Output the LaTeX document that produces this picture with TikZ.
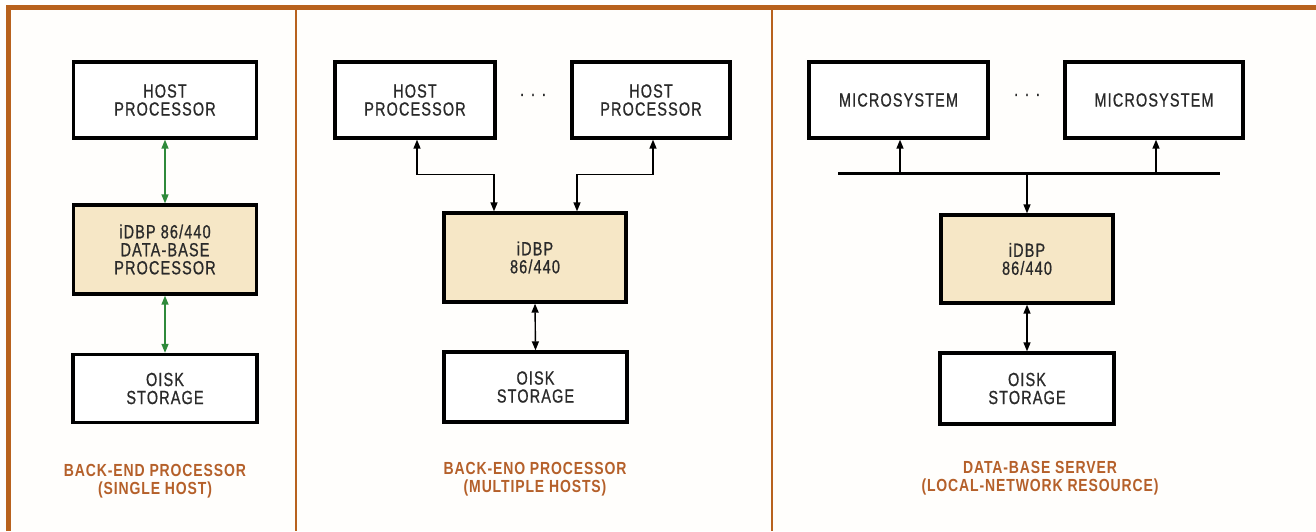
\documentclass[tikz,border=0pt]{standalone}
\usepackage{fontspec}
\setmainfont{Liberation Sans}[FakeStretch=0.8,LetterSpace=5]
\newfontfamily\boxfont{Liberation Sans}[FakeStretch=0.76,LetterSpace=6,FakeBold=0.8]
\usetikzlibrary{arrows.meta}
\definecolor{frame}{HTML}{B8621E}
\definecolor{cap}{HTML}{B5602A}
\definecolor{tan}{HTML}{F6E7C6}
\definecolor{ink}{HTML}{2A2A2A}
\definecolor{grn}{HTML}{2F8A3B}
\definecolor{paper}{HTML}{FFFEFC}
\begin{document}
\begin{tikzpicture}[x=1pt,y=-1pt,
  blk/.style={draw=black,line width=3.3pt,fill=white,inner sep=0pt,align=center,
    text=ink,font=\boxfont\fontsize{19}{18}\selectfont},
  dbp/.style={blk,fill=tan},
  captxt/.style={align=center,text=cap,font=\bfseries\fontsize{17.5}{18.5}\selectfont},
  tip/.style={-{Triangle[length=9pt,width=7pt]}},
  arr/.style={{Triangle[length=9pt,width=7pt]}-{Triangle[length=9pt,width=7pt]},line width=1.4pt},
  one/.style={tip,line width=1.4pt},
  bus/.style={line width=3pt},
  dots/.style={text=ink,font=\boxfont\fontsize{19}{18}\selectfont}]
\useasboundingbox (0,0) rectangle (1316,531);
\fill[white] (0,0) rectangle (1316,531);
\fill[paper] (8,7) rectangle (1316,531);
% frame
\draw[frame,line width=4.5pt] (8.5,531) -- (8.5,7.5) -- (1316,7.5);
\draw[frame,line width=2pt] (295.5,9) -- (295.5,531);
\draw[frame,line width=2pt] (772,9) -- (772,531);

% panel 1
\node[blk,minimum width=183pt,minimum height=76pt] (hp1) at (165,100) {HOST\\PROCESSOR};
\node[dbp,minimum width=183pt,minimum height=89pt] (db1) at (165,249.5) {iDBP 86/440\\DATA-BASE\\PROCESSOR};
\node[blk,minimum width=184pt,minimum height=68pt] (dk1) at (165,388.5) {OISK\\STORAGE};
\draw[arr,grn] (hp1.south) -- (db1.north);
\draw[arr,grn] (db1.south) -- (dk1.north);
\node[captxt] (c1) at (155,481) {BACK-END PROCESSOR\\(SINGLE HOST)};

% panel 2
\node[blk,minimum width=160pt,minimum height=76pt] (h1) at (415,100) {HOST\\PROCESSOR};
\node[blk,minimum width=158pt,minimum height=76pt] (h2) at (651,100) {HOST\\PROCESSOR};
\node[dots] (dt2) at (533,97) {·\hspace{6pt}·\hspace{6pt}·};
\node[dbp,minimum width=182pt,minimum height=89pt] (p2) at (535,257.5) {iDBP\\86/440};
\node[blk,minimum width=183pt,minimum height=70pt] (d2) at (535.5,387) {OISK\\STORAGE};
\draw[arr] ([xshift=2pt]h1.south) -- ++(0,35) -| ([xshift=-41pt]p2.north);
\draw[arr] ([xshift=2pt]h2.south) -- ++(0,35) -| ([xshift=42pt]p2.north);
\draw[arr] (p2.south) -- (d2.north);
\node[captxt] (c2) at (535,479) {BACK-ENO PROCESSOR\\(MULTIPLE HOSTS)};

% panel 3
\node[blk,minimum width=179pt,minimum height=76pt] (m1) at (898.5,100) {MICROSYSTEM};
\node[blk,minimum width=178pt,minimum height=76pt] (m2) at (1154,100) {MICROSYSTEM};
\node[dots] (dt3) at (1027,97) {·\hspace{6pt}·\hspace{6pt}·};
\node[dbp,minimum width=172pt,minimum height=88pt] (p3) at (1027,259) {iDBP\\86/440};
\node[blk,minimum width=174pt,minimum height=71pt] (d3) at (1027,388.5) {OISK\\STORAGE};
\coordinate (busL) at (838,173);
\coordinate (busR) at (1220,173);
\draw[bus] (busL) -- (busR);
\draw[one] ([xshift=1.5pt]m1.south |- busL) -- ([xshift=1.5pt]m1.south);
\draw[one] ([xshift=2pt]m2.south |- busL) -- ([xshift=2pt]m2.south);
\draw[one] (p3.north |- busL) -- (p3.north);
\draw[arr] (p3.south) -- (d3.north);
\node[captxt] (c3) at (1040,478) {DATA-BASE SERVER\\(LOCAL-NETWORK RESOURCE)};
\end{tikzpicture}
\end{document}
